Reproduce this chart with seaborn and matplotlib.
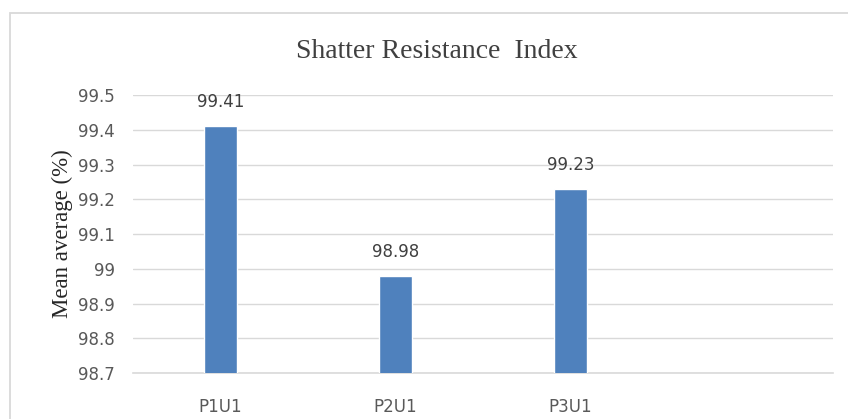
import matplotlib
matplotlib.use("Agg")
import matplotlib.pyplot as plt
import seaborn as sns
import pandas as pd
from matplotlib.patches import Rectangle

categories = ["P1U1", "P2U1", "P3U1"]
values = [99.41, 98.98, 99.23]
value_labels = ["99.41", "98.98", "99.23"]
yticks = [98.7, 98.8, 98.9, 99.0, 99.1, 99.2, 99.3, 99.4, 99.5]
ytick_labels = ["98.7", "98.8", "98.9", "99", "99.1", "99.2", "99.3", "99.4", "99.5"]
title = "Shatter Resistance  Index"
ylabel = "Mean average (%)"

df = pd.DataFrame({"cat": categories, "val": values})

sns.set_theme(style="white")
plt.rcParams["font.family"] = ["DejaVu Sans"]

W, H = 848, 419
fig = plt.figure(figsize=(W / 100, H / 100), dpi=100)
fig.patch.set_facecolor("white")

# outer chart border (left and top visible)
fig.patches.append(Rectangle((10 / W, -0.05), 1.0, (H - 13) / H + 0.05,
                             transform=fig.transFigure, fill=False,
                             edgecolor="#d9d9d9", linewidth=1.3, zorder=0))

ax = fig.add_axes([133 / W, 1 - 373 / H, (833 - 133) / W, (373 - 95) / H])
sns.barplot(data=df, x="cat", y="val", color="#4F81BD", width=0.19,
            saturation=1, ax=ax, zorder=3)

ax.set_xlim(-0.5, 3.5)
ax.set_ylim(98.7, 99.5)
ax.set_yticks(yticks)
ax.set_yticklabels(ytick_labels)
ax.yaxis.grid(True, color="#d9d9d9", linewidth=1.0, zorder=0)
ax.set_axisbelow(True)
for s in ["top", "right", "left"]:
    ax.spines[s].set_visible(False)
ax.spines["bottom"].set_color("#d9d9d9")
ax.spines["bottom"].set_linewidth(1.2)
ax.tick_params(axis="both", length=0, labelsize=12, colors="#595959")
ax.tick_params(axis="y", pad=13)
ax.tick_params(axis="x", pad=18)
ax.set_xlabel("")
ax.set_ylabel(ylabel, family="Liberation Serif", fontsize=16.5, color="#262626", labelpad=4)

for i, (v, lab) in enumerate(zip(values, value_labels)):
    ax.annotate(lab, (i, v), xytext=(0, 15), textcoords="offset pixels",
                ha="center", va="bottom", fontsize=12, color="#404040")

fig.text(437 / W, 1 - 51 / H, title, family="Liberation Serif", fontsize=20,
         color="#404040", ha="center", va="center")

fig.savefig("out.png", dpi=100, facecolor="white")
